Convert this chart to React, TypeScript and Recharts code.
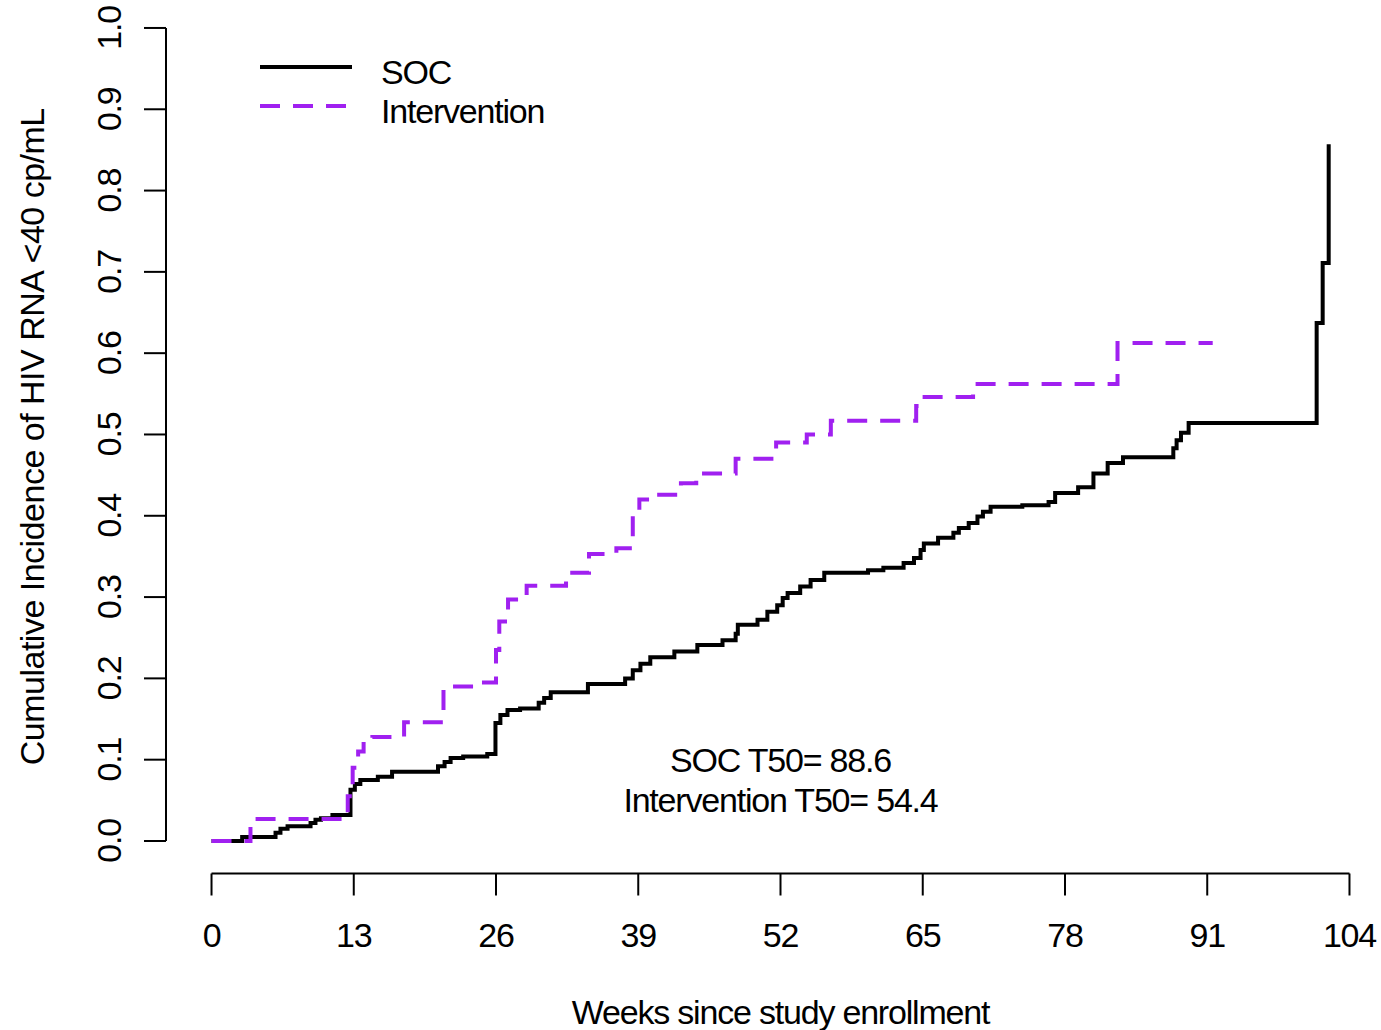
import React from "react";
import {
  LineChart,
  Line,
  XAxis,
  YAxis,
  Legend,
  Label,
  ReferenceLine,
  ReferenceDot,
} from "recharts";

// Step points: weeks since enrollment and cumulative incidence after each event
const socWeeks = [
  0, 2.8, 5.85, 6.3, 6.95, 9.05, 9.5, 10.0, 11.05, 12.7, 13.1, 13.6, 15.2,
  16.5, 20.7, 21.3, 21.85, 23.0, 25.2, 25.95, 26.4, 27.05, 28.2, 29.9, 30.4,
  31.0, 34.4, 37.8, 38.5, 39.2, 40.1, 42.3, 44.4, 46.7, 47.9, 48.1, 49.9,
  50.8, 51.7, 52.2, 52.65, 53.8, 54.75, 56.0, 60.0, 61.4, 63.25, 64.2, 64.8,
  65.1, 66.4, 67.8, 68.3, 69.2, 70.0, 70.5, 71.2, 74.1, 76.5, 77.1, 79.2,
  80.6, 81.9, 83.3, 87.9, 88.2, 88.6, 89.3, 101.0, 101.55, 102.1,
];
const socIncidence = [
  0, 0.005, 0.01, 0.015, 0.018, 0.022, 0.026, 0.028, 0.032, 0.063, 0.07,
  0.075, 0.079, 0.085, 0.092, 0.097, 0.102, 0.104, 0.107, 0.145, 0.155,
  0.161, 0.163, 0.17, 0.176, 0.183, 0.193, 0.2, 0.21, 0.218, 0.226, 0.233,
  0.241, 0.247, 0.255, 0.266, 0.272, 0.282, 0.29, 0.299, 0.305, 0.313, 0.321,
  0.33, 0.333, 0.336, 0.342, 0.348, 0.358, 0.366, 0.373, 0.379, 0.385, 0.391,
  0.399, 0.405, 0.411, 0.413, 0.417, 0.428, 0.435, 0.452, 0.465, 0.472,
  0.483, 0.493, 0.502, 0.514, 0.637, 0.711, 0.857,
];

const interventionWeeks = [
  0, 3.56, 12.45, 12.9, 13.4, 13.9, 14.7, 17.6, 21.2, 24.4, 26.0, 26.3, 27.1,
  28.8, 32.4, 34.5, 37.0, 38.5, 39.1, 40.6, 42.9, 44.3, 47.9, 51.6, 54.4,
  56.6, 64.4, 64.8, 69.6, 82.8, 91.5,
];
const interventionIncidence = [
  0, 0.027, 0.055, 0.09, 0.11, 0.122, 0.128, 0.146, 0.19, 0.195, 0.235, 0.27,
  0.297, 0.314, 0.33, 0.353, 0.36, 0.4, 0.42, 0.426, 0.44, 0.452, 0.47, 0.49,
  0.5, 0.517, 0.535, 0.546, 0.562, 0.6125, 0.6125,
];

const seriesNames = ["SOC", "Intervention"];
const weekTicks = [0, 13, 26, 39, 52, 65, 78, 91, 104];
const incidenceTicks = [0, 0.1, 0.2, 0.3, 0.4, 0.5, 0.6, 0.7, 0.8, 0.9, 1.0];

const socData = socWeeks.map((week, i) => ({ week, p: socIncidence[i] }));
const interventionData = interventionWeeks.map((week, i) => ({
  week,
  p: interventionIncidence[i],
}));

const FONT = '"Liberation Sans", Arial, sans-serif';
const textStyle = { fontFamily: FONT, fontSize: 34, letterSpacing: -1.2 };
const PURPLE = "#A020F0";

const XTick = ({ x, y, payload }: any) => (
  <text x={x} y={y + 51.5} textAnchor="middle" fill="#000" style={textStyle}>
    {payload.value}
  </text>
);

const YTick = ({ x, y, payload }: any) => (
  <text
    transform={`translate(${x - 23},${y}) rotate(-90)`}
    textAnchor="middle"
    fill="#000"
    style={textStyle}
  >
    {Number(payload.value).toFixed(1)}
  </text>
);

// legend keeps the series order, SOC on top
const renderLegend = ({ payload }: any) => {
  const items = [...(payload || [])].sort(
    (a: any, b: any) => seriesNames.indexOf(a.value) - seriesNames.indexOf(b.value)
  );
  return (
    <svg width={330} height={95}>
      {items.map((entry: any, i: number) => {
        const ly = 27 + i * 39;
        return (
          <g key={entry.value}>
            <line
              x1={5}
              x2={97}
              y1={ly}
              y2={ly}
              stroke={entry.color}
              strokeWidth={4}
              strokeDasharray={entry.payload?.strokeDasharray}
            />
            <text x={126} y={ly + 17} fill="#000" style={textStyle}>
              {entry.value}
            </text>
          </g>
        );
      })}
    </svg>
  );
};

export default function App() {
  return (
    <div
      style={{
        position: "absolute",
        left: 0,
        top: 0,
        width: 1381,
        height: 1030,
        overflow: "hidden",
        background: "#fff",
      }}
    >
      <LineChart
        width={1395}
        height={1030}
        margin={{ top: 0, right: 0, bottom: 0, left: 0 }}
        style={{ fontFamily: FONT }}
      >
        <XAxis
          dataKey="week"
          type="number"
          domain={[-4.16, 108.16]}
          ticks={weekTicks}
          allowDataOverflow
          height={156.5}
          axisLine={false}
          tickSize={22}
          tickMargin={0}
          tickLine={{ stroke: "#000", strokeWidth: 2 }}
          tick={<XTick />}
        >
          <Label
            value="Weeks since study enrollment"
            position="insideBottom"
            offset={6}
            fill="#000"
            style={textStyle}
          />
        </XAxis>
        <YAxis
          type="number"
          domain={[-0.04, 1.0344]}
          ticks={incidenceTicks}
          allowDataOverflow
          width={166}
          axisLine={false}
          tickSize={22}
          tickMargin={0}
          tickLine={{ stroke: "#000", strokeWidth: 2 }}
          tick={<YTick />}
        >
          <Label
            value="Cumulative Incidence of HIV RNA <40 cp/mL"
            angle={-90}
            position="insideLeft"
            offset={32}
            fill="#000"
            style={{ ...textStyle, letterSpacing: -0.5, textAnchor: "middle" }}
          />
        </YAxis>

        {/* detached R-style axis lines */}
        <ReferenceLine
          segment={[
            { x: 0, y: -0.04 },
            { x: 104, y: -0.04 },
          ]}
          stroke="#000"
          strokeWidth={2}
          ifOverflow="visible"
        />
        <ReferenceLine
          segment={[
            { x: -4.16, y: 0 },
            { x: -4.16, y: 1 },
          ]}
          stroke="#000"
          strokeWidth={2}
          ifOverflow="visible"
        />

        <Legend
          layout="vertical"
          align="center"
          verticalAlign="middle"
          content={renderLegend}
          wrapperStyle={{ position: "absolute", left: 255, top: 40, width: 330 }}
        />

        <Line
          data={socData}
          dataKey="p"
          name="SOC"
          type="stepAfter"
          stroke="#000"
          strokeWidth={4}
          dot={false}
          activeDot={false}
          isAnimationActive={false}
        />
        <Line
          data={interventionData}
          dataKey="p"
          name="Intervention"
          type="stepAfter"
          stroke={PURPLE}
          strokeWidth={4}
          strokeDasharray="20 13"
          dot={false}
          activeDot={false}
          isAnimationActive={false}
        />

        <ReferenceDot x={52} y={0.1} r={0} fill="none" stroke="none" ifOverflow="visible">
          <Label value="SOC T50= 88.6" position="center" fill="#000" style={textStyle} />
        </ReferenceDot>
        <ReferenceDot x={52} y={0.05} r={0} fill="none" stroke="none" ifOverflow="visible">
          <Label
            value="Intervention T50= 54.4"
            position="center"
            fill="#000"
            style={textStyle}
          />
        </ReferenceDot>
      </LineChart>
    </div>
  );
}
